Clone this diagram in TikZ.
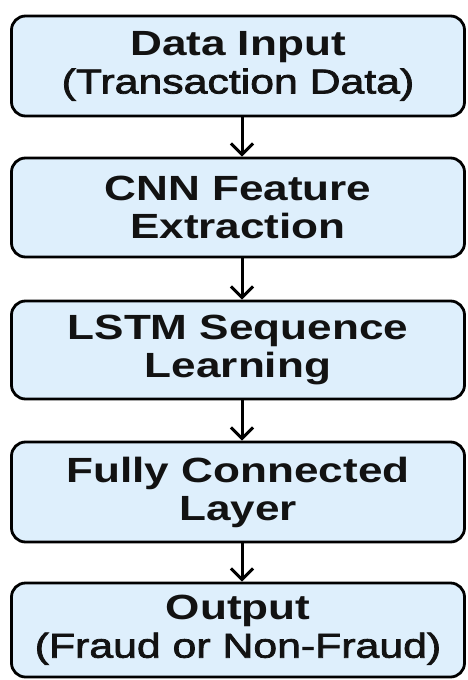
\documentclass[tikz,border=0pt]{standalone}
\usepackage{fontspec}
\setmainfont{Liberation Sans}[FakeStretch=1.26]
\newfontfamily\subfont{Liberation Sans}[FakeStretch=1.24, FakeBold=2.2]
\usetikzlibrary{arrows.meta}
\definecolor{boxfill}{RGB}{222,239,252}
\begin{document}
\begin{tikzpicture}[x=1pt,y=-1pt,
  stagebox/.style={draw=black, line width=2.8pt, fill=boxfill, rounded corners=14pt,
    minimum width=453pt, inner sep=0pt, align=center, text=black!93,
    font=\fontsize{35}{38}\selectfont\bfseries},
  flow/.style={line width=3pt, -{Straight Barb[length=11pt,width=22pt]}}]
\useasboundingbox (0,0) rectangle (467,680);

% pipeline stages
\node[stagebox, minimum height=100pt] (input) at (238,66)
  {Data Input\\{\subfont\mdseries\fontsize{34.5}{38}\selectfont (Transaction Data)}};
\node[stagebox, minimum height=99pt] (cnn) at (238,207.5)
  {CNN Feature\\Extraction};
\node[stagebox, minimum height=98pt] (lstm) at (238,350)
  {LSTM Sequence\\Learning};
\node[stagebox, minimum height=100pt] (fc) at (238,492)
  {Fully Connected\\Layer};
\node[stagebox, minimum height=94pt] (out) at (238,630)
  {Output\\{\subfont\mdseries\fontsize{34.5}{38}\selectfont (Fraud or Non-Fraud)}};

% connectors between stages
\foreach \a/\b in {input/cnn, cnn/lstm, lstm/fc, fc/out}
  \draw[flow] ([xshift=4pt]\a.south) -- ([xshift=4pt]\b.north);
\end{tikzpicture}
\end{document}
